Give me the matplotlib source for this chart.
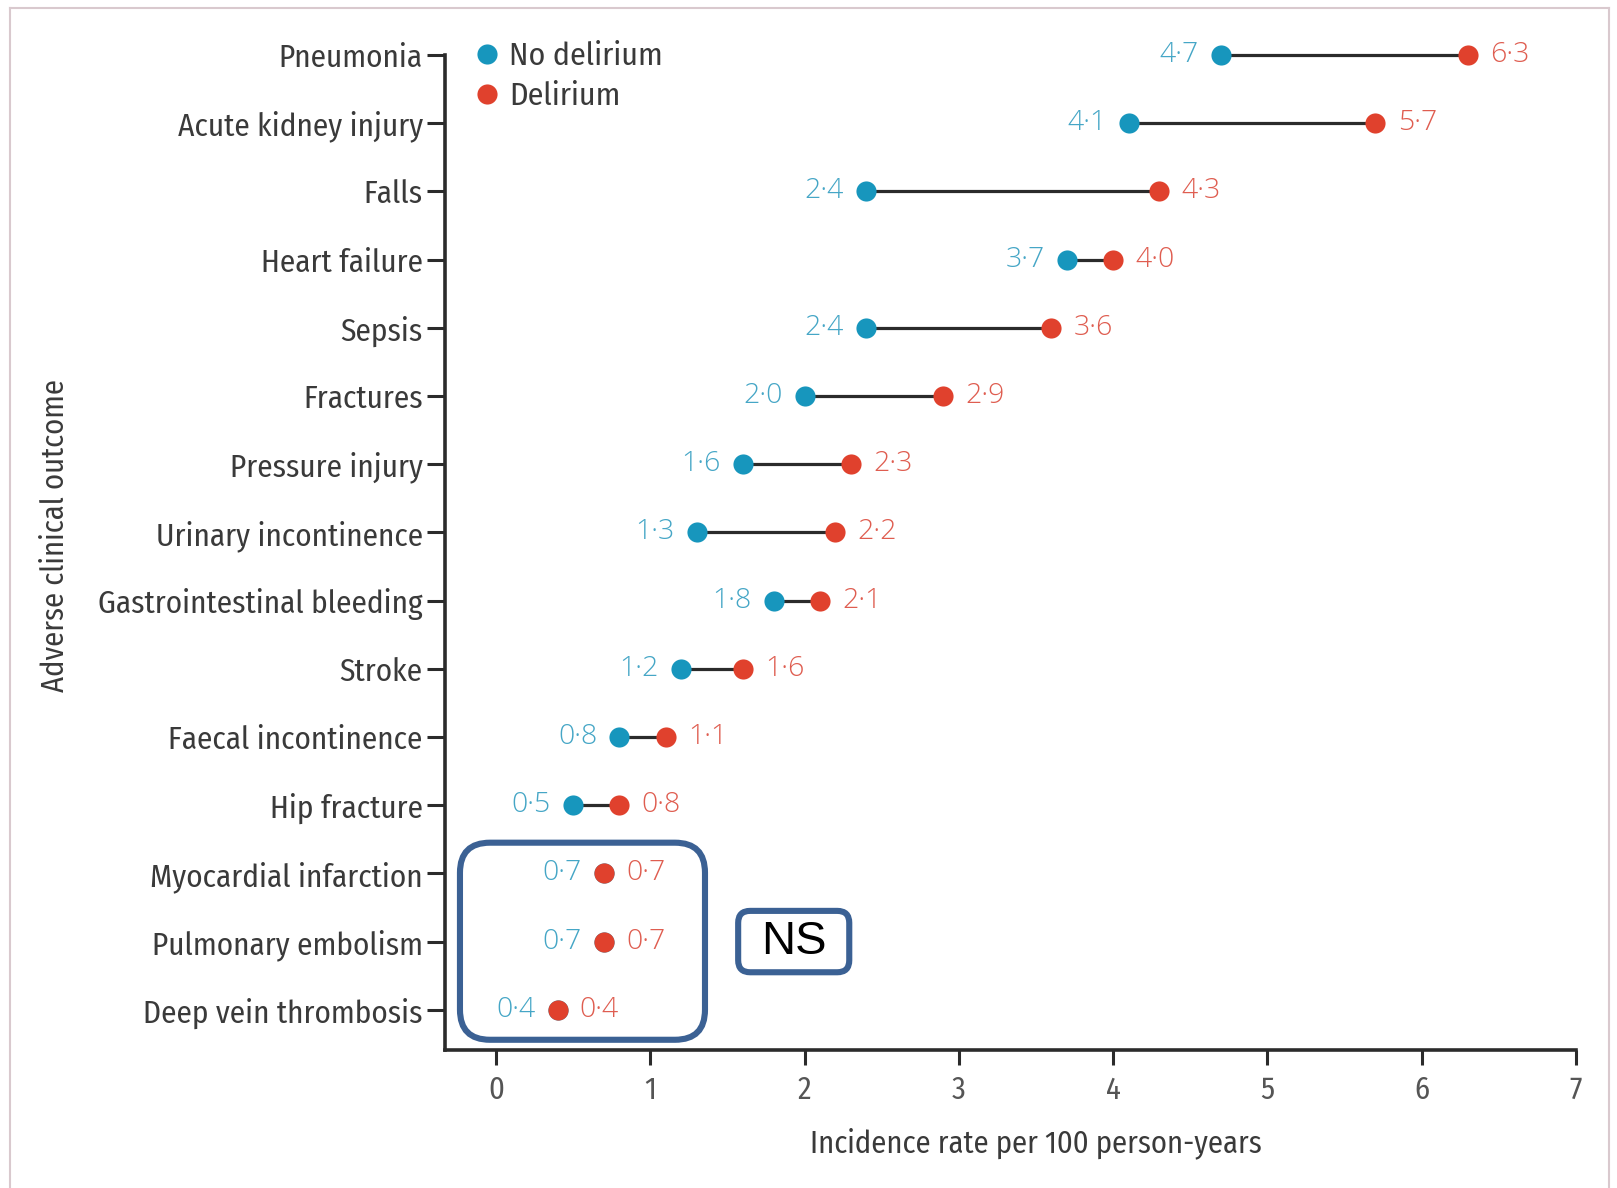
import matplotlib
matplotlib.use("Agg")
import matplotlib.pyplot as plt
from matplotlib.lines import Line2D
from matplotlib.patches import FancyBboxPatch

# Adverse clinical outcomes, top to bottom
outcomes = [
    "Pneumonia", "Acute kidney injury", "Falls", "Heart failure", "Sepsis",
    "Fractures", "Pressure injury", "Urinary incontinence",
    "Gastrointestinal bleeding", "Stroke", "Faecal incontinence",
    "Hip fracture", "Myocardial infarction", "Pulmonary embolism",
    "Deep vein thrombosis",
]
# Incidence rate per 100 person-years
no_delirium = [4.7, 4.1, 2.4, 3.7, 2.4, 2.0, 1.6, 1.3, 1.8, 1.2, 0.8, 0.5, 0.7, 0.7, 0.4]
delirium = [6.3, 5.7, 4.3, 4.0, 3.6, 2.9, 2.3, 2.2, 2.1, 1.6, 1.1, 0.8, 0.7, 0.7, 0.4]
x_ticks = [0, 1, 2, 3, 4, 5, 6, 7]
ns_outcomes = ["Myocardial infarction", "Pulmonary embolism", "Deep vein thrombosis"]

BLUE = "#1796bd"
RED = "#e0412d"
BLUE_TXT = "#45a6c6"
RED_TXT = "#df5d50"
DARK = "#2b2b2b"
TXT = "#3a3a3a"
FRAME = "#3b6194"

FONT = ["Fira Sans Condensed", "PT Sans Narrow", "DejaVu Sans"]
NUM_FONT = ["Open Sans", "DejaVu Sans"]
plt.rcParams["font.family"] = FONT

W, H = 1617, 1188
fig = plt.figure(figsize=(W / 100, H / 100), dpi=100)

x_lo, x_hi = -0.33, 7.0
y_lo, y_hi = -0.59, 14.25
ax = fig.add_axes([445 / W, 1 - 1050 / H, 1131 / W, (1050 - 38) / H])
ax.set_xlim(x_lo, x_hi)
ax.set_ylim(y_lo, y_hi)

n = len(outcomes)
ys = [n - 1 - i for i in range(n)]

def fmt(v):
    return f"{v:.1f}".replace(".", "\u00b7")

for y, a, b in zip(ys, no_delirium, delirium):
    ax.plot([a, b], [y, y], color=DARK, lw=2.3, zorder=2, solid_capstyle="butt")
    ax.plot(a, y, "o", color=BLUE, ms=14.5, mec="none", zorder=3)
    ax.plot(b, y, "o", color=RED, ms=14.5, mec="none", zorder=4)
    ax.annotate(fmt(a), (a, y), xytext=(-16, 0), textcoords="offset points",
                ha="right", va="center", fontsize=20.5, family=NUM_FONT,
                weight=300, color=BLUE_TXT)
    ax.annotate(fmt(b), (b, y), xytext=(16, 0), textcoords="offset points",
                ha="left", va="center", fontsize=20.5, family=NUM_FONT,
                weight=300, color=RED_TXT)

ax.set_yticks(ys)
ax.set_yticklabels(outcomes)
ax.set_xticks(x_ticks)
ax.set_xticklabels([str(t) for t in x_ticks])
ax.tick_params(axis="y", length=13, width=2.2, color=DARK, labelsize=22.5,
               labelcolor=TXT, pad=3)
ax.tick_params(axis="x", length=11, width=2.2, color=DARK, labelsize=22,
               labelcolor="#555555", pad=7)

for s in ["top", "right"]:
    ax.spines[s].set_visible(False)
for s in ["left", "bottom"]:
    ax.spines[s].set_linewidth(2.6)
    ax.spines[s].set_color(DARK)
ax.spines["left"].set_bounds(y_lo, ys[0])

ax.set_xlabel("Incidence rate per 100 person-years", fontsize=22, color=TXT)
ax.xaxis.set_label_coords((1036 - 445) / 1131, -(1127 - 1050) / (1050 - 38))
ax.set_ylabel("Adverse clinical outcome", fontsize=22, color=TXT)
ax.yaxis.set_label_coords((70 - 445) / 1131, (1050 - 536) / (1050 - 38))

# Legend
handles = [
    Line2D([], [], ls="none", marker="o", ms=14.5, mec="none", color=BLUE),
    Line2D([], [], ls="none", marker="o", ms=14.5, mec="none", color=RED),
]
ax.legend(handles, ["No delirium", "Delirium"], loc="upper left",
          bbox_to_anchor=(-0.13, 14.2), bbox_transform=ax.transData,
          frameon=False, fontsize=23, handlelength=0.7, handletextpad=0.35,
          labelspacing=0.3, borderpad=0, borderaxespad=0,
          labelcolor=TXT)

# Non-significant group frame
ns_idx = [outcomes.index(o) for o in ns_outcomes]
ns_top = ys[min(ns_idx)] + 0.45
ns_bot = ys[max(ns_idx)] - 0.44
px_x = (x_hi - x_lo) / 1131
px_y = (y_hi - y_lo) / 1012
aspect = px_y / px_x
box = FancyBboxPatch((-0.233, ns_bot), 1.355 + 0.233, ns_top - ns_bot,
                     boxstyle=f"round,pad=0,rounding_size={30 * px_x}",
                     mutation_aspect=aspect, fc="none", ec=FRAME, lw=4.4,
                     zorder=5, clip_on=False)
ax.add_patch(box)

ns_y = ys[ns_idx[1]]
ns_box = FancyBboxPatch((1.57, ns_y - 0.45), 0.72, 0.9,
                        boxstyle=f"round,pad=0,rounding_size={12 * px_x}",
                        mutation_aspect=aspect, fc="white", ec=FRAME, lw=4.4,
                        zorder=5, clip_on=False)
ax.add_patch(ns_box)
ax.text(1.57 + 0.36, ns_y, "NS", ha="center", va="center", fontsize=34,
        family=["Liberation Sans", "DejaVu Sans"], color="black", zorder=6)

# Page frame
frame_kw = dict(color="#d9c9ce", lw=1.5, transform=fig.transFigure)
fig.add_artist(Line2D([10 / W, 10 / W], [0, 1 - 8 / H], **frame_kw))
fig.add_artist(Line2D([10 / W, 1609 / W], [1 - 8 / H, 1 - 8 / H], **frame_kw))
fig.add_artist(Line2D([1609 / W, 1609 / W], [0, 1 - 8 / H], **frame_kw))

fig.savefig("out.png", dpi=100, facecolor="white")
